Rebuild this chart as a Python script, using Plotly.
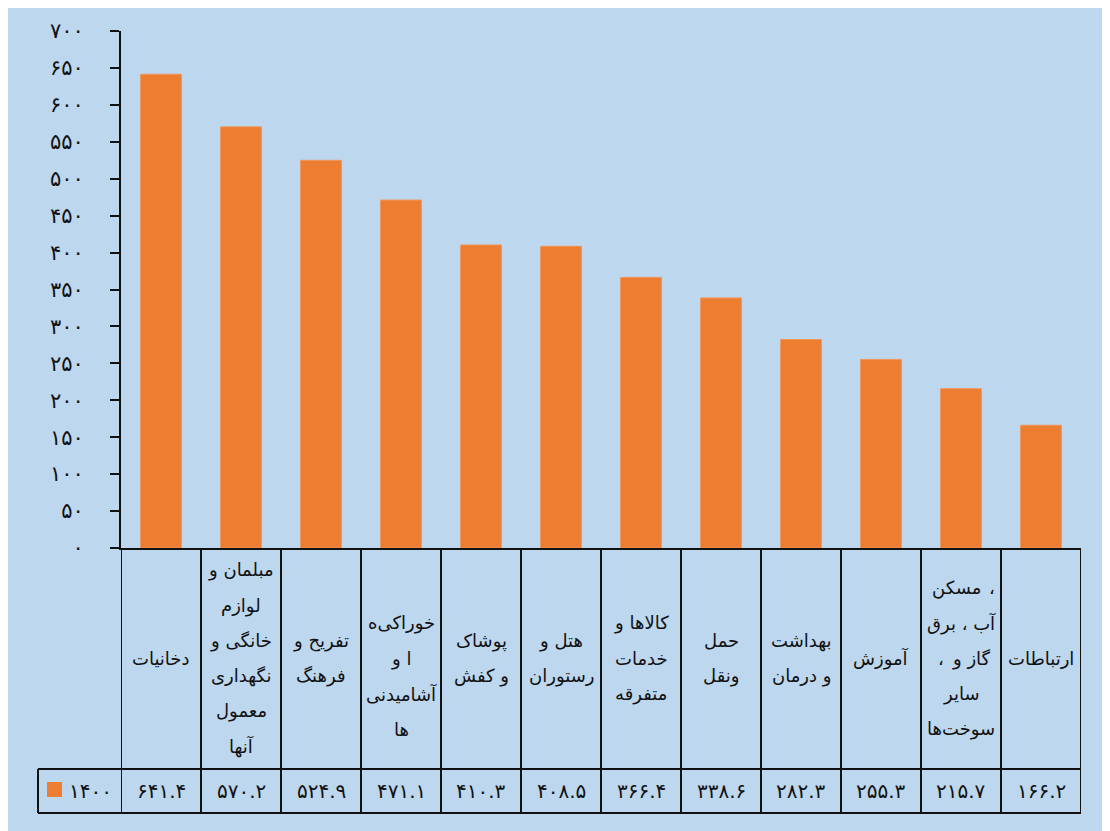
import plotly.graph_objects as go

# ---------------- data ----------------
categories = [
    "دخانیات",
    "مبلمان و لوازم خانگی و نگهداری معمول آنها",
    "تفریح و فرهنگ",
    "خوراکی‌ها و آشامیدنی‌ها",
    "پوشاک و کفش",
    "هتل و رستوران",
    "کالاها و خدمات متفرقه",
    "حمل ونقل",
    "بهداشت و درمان",
    "آموزش",
    "مسکن ، آب ، برق ، گاز و سایر سوخت‌ها",
    "ارتباطات",
]
# wrapped labels as they appear in the data table
# a line may be a list of (text, horizontal shift in px) pieces
category_lines = [
    ["دخانیات"],
    ["مبلمان و", "لوازم", "خانگی و", "نگهداری", "معمول", "آنها"],
    ["تفریح و", "فرهنگ"],
    ["", "خوراکی‌ه", "ا و", "آشامیدنی", "ها"],
    ["پوشاک", "و کفش"],
    ["هتل و", "رستوران"],
    ["کالاها و", "خدمات", "متفرقه"],
    ["حمل", "ونقل"],
    ["بهداشت", "و درمان"],
    ["آموزش"],
    [[("مسکن", -5), ("،", 31)], "آب ، برق", [("،", -20), ("گاز و", 10)], "سایر", "سوخت‌ها"],
    ["ارتباطات"],
]
series_name = "1400"
values = [641.4, 570.2, 524.9, 471.1, 410.3, 408.5, 366.4, 338.6, 282.3, 255.3, 215.7, 166.2]
y_ticks = list(range(0, 701, 50))

# ---------------- helpers ----------------
FA = str.maketrans("0123456789", "۰۱۲۳۴۵۶۷۸۹")


def fa(s):
    return str(s).translate(FA)


OFF = 8                                   # page body margin
W, H = 1110 - OFF, 831 - OFF
PL, PR, PT, PB = 121, 1081, 31, 548       # plot-area box in page pixels
PW, PH = PR - PL, PB - PT


def px_x(x):
    return (x - PL) / PW


def px_y(y):
    return (PB - y) / PH


BG = "#BDD7EE"
BAR = "#ED7D31"
LINE = "#111111"
TXT = "#111111"
FONT = "DejaVu Sans"

n = len(categories)
xs = list(range(n))

fig = go.Figure()
fig.add_trace(go.Bar(
    x=xs, y=values, name=series_name,
    marker=dict(color=BAR, line=dict(color="#F0955A", width=1)),
    width=0.51, showlegend=False,
))

shapes = []
annotations = []

ROW1_BOT = 769
ROW2_BOT = 813
LEG_LEFT = 38

for i in range(n + 1):
    xv = i - 0.5
    shapes.append(dict(type="line", xref="x", yref="paper",
                       x0=xv, x1=xv, y0=px_y(PB), y1=px_y(ROW2_BOT),
                       line=dict(color=LINE, width=2)))
for yy in (ROW1_BOT, ROW2_BOT):
    shapes.append(dict(type="line", xref="paper", yref="paper",
                       x0=px_x(LEG_LEFT), x1=1, y0=px_y(yy), y1=px_y(yy),
                       line=dict(color=LINE, width=2)))
shapes.append(dict(type="line", xref="paper", yref="paper",
                   x0=px_x(LEG_LEFT), x1=px_x(LEG_LEFT), y0=px_y(ROW1_BOT), y1=px_y(ROW2_BOT),
                   line=dict(color=LINE, width=2)))
shapes.append(dict(type="rect", xref="paper", yref="paper",
                   x0=px_x(47), x1=px_x(62), y0=px_y(797), y1=px_y(782),
                   fillcolor=BAR, line=dict(width=0)))

CENTER = (PB + ROW1_BOT) / 2
SP = 35.3
for i, lines in enumerate(category_lines):
    k = len(lines)
    for j, t in enumerate(lines):
        if not t:
            continue
        yy = CENTER + (j - (k - 1) / 2) * SP
        pieces = t if isinstance(t, list) else [(t, 0)]
        for txt, dx in pieces:
            annotations.append(dict(x=i, y=px_y(yy), xref="x", yref="paper", xshift=dx,
                                    text=txt, showarrow=False, xanchor="center", yanchor="middle",
                                    font=dict(family=FONT, size=18, color=TXT)))

VC = (ROW1_BOT + ROW2_BOT) / 2
for i, v in enumerate(values):
    annotations.append(dict(x=i, y=px_y(VC), xref="x", yref="paper",
                            text=fa(f"{v:.1f}"), showarrow=False,
                            xanchor="center", yanchor="middle",
                            font=dict(family=FONT, size=20, color=TXT)))
annotations.append(dict(x=px_x(90), y=px_y(VC), xref="paper", yref="paper",
                        text=fa(series_name), showarrow=False,
                        xanchor="center", yanchor="middle",
                        font=dict(family=FONT, size=20, color=TXT)))

fig.update_layout(
    width=W, height=H,
    margin=dict(l=PL - OFF, r=W - (PR - OFF), t=PT - OFF, b=H - (PB - OFF), pad=0),
    paper_bgcolor=BG,
    plot_bgcolor="rgba(0,0,0,0)",
    shapes=shapes,
    annotations=annotations,
    xaxis=dict(range=[-0.5, n - 0.5], showticklabels=False, ticks="",
               showgrid=False, zeroline=False, showline=True,
               linecolor=LINE, linewidth=2, fixedrange=True),
    yaxis=dict(range=[0, 700], tickvals=y_ticks, ticktext=[fa(t) for t in y_ticks],
               ticks="outside", ticklen=9, tickwidth=2, tickcolor=LINE,
               showline=True, linecolor=LINE, linewidth=2,
               showgrid=False, zeroline=False, ticklabelstandoff=22,
               tickfont=dict(family=FONT, size=21, color=TXT)),
)

fig.write_html("out.html")
